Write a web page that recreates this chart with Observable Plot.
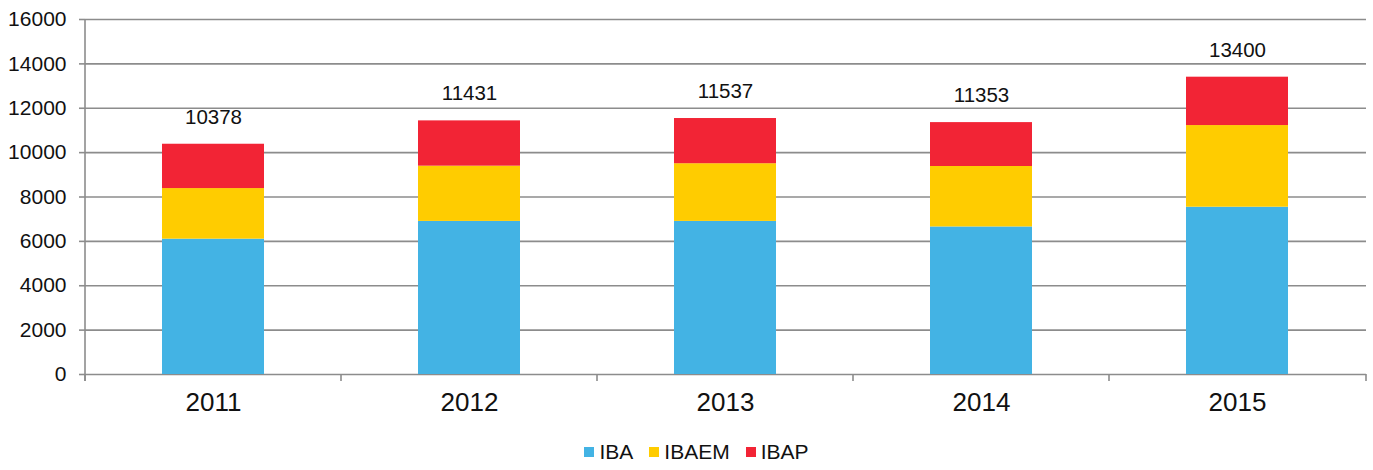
<!DOCTYPE html>
<html>
<head>
<meta charset="utf-8">
<script src="https://cdn.jsdelivr.net/npm/d3@7"></script>
<script src="https://cdn.jsdelivr.net/npm/@observablehq/plot@0.6"></script>
<style>
  body { margin: 0; background: #fff; font-family: "Liberation Sans", Arial, sans-serif; }
  svg g[aria-label="y-axis tick label"], svg g[aria-label="y-axis tick label"] text { font-size: 21px; }
  #legend { display: flex; justify-content: center; align-items: center; font-size: 21px; color: #111; height: 30px; margin-top: 7px; padding-left: 20px; }
  #legend .item { display: flex; align-items: center; margin: 0 8px; }
  #legend .sw { width: 10px; height: 10px; display: inline-block; margin-right: 5px; }
</style>
</head>
<body>
<div id="chart"></div>
<div id="legend"></div>
<script>
const years = ["2011", "2012", "2013", "2014", "2015"];
const seriesNames = ["IBA", "IBAEM", "IBAP"];
const iba = [6100, 6900, 6900, 6650, 7540];
const ibaem = [2280, 2490, 2600, 2725, 3680];
const ibap = [1998, 2041, 2037, 1978, 2180];
const totals = [10378, 11431, 11537, 11353, 13400];
const colors = ["#43B3E4", "#FFCC00", "#F22435"];
const yTicks = [0, 2000, 4000, 6000, 8000, 10000, 12000, 14000, 16000];

const seriesValues = [iba, ibaem, ibap];
const rows = years.flatMap((year, i) =>
  seriesNames.map((s, k) => ({ year, series: s, value: seriesValues[k][i] }))
);
const totalRows = years.map((year, i) => ({ year, total: totals[i] }));

// y-axis line and tick marks at category boundaries (Excel-style)
function axisLines(index, scales, values, dims) {
  const x = scales.x;
  const centers = years.map(y => x(y) + x.bandwidth() / 2);
  const b = [dims.marginLeft];
  for (let i = 0; i < centers.length - 1; i++) b.push((centers[i] + centers[i + 1]) / 2);
  b.push(dims.width - dims.marginRight);
  const y0 = scales.y(0);
  const g = d3.create("svg:g").attr("stroke", "#8c8c8c").attr("stroke-width", 1.6);
  g.append("line").attr("x1", dims.marginLeft).attr("x2", dims.marginLeft)
    .attr("y1", scales.y(16000)).attr("y2", y0 + 7);
  for (const v of b) g.append("line").attr("x1", v).attr("x2", v).attr("y1", y0).attr("y2", y0 + 7);
  return g.node();
}

const chart = Plot.plot({
  width: 1373,
  height: 430,
  marginTop: 19,
  marginBottom: 56,
  marginLeft: 85,
  marginRight: 7,
  style: { fontFamily: "Liberation Sans, Arial, sans-serif", background: "#fff", color: "#111" },
  x: { domain: years, paddingInner: 0.6, paddingOuter: 0.3, label: null },
  y: { domain: [0, 16000], label: null },
  color: { domain: seriesNames, range: colors },
  marks: [
    Plot.ruleY(yTicks, { stroke: "#8c8c8c", strokeWidth: 1.6 }),
    Plot.barY(rows, { x: "year", y: "value", fill: "series", order: seriesNames }),
    Plot.text(totalRows, { x: "year", y: "total", text: d => String(d.total), dy: -27, fontSize: 20.5, fill: "#111" }),
    Plot.axisY({ ticks: yTicks, tickFormat: d => String(d), tickSize: 6, tickPadding: 13, fontSize: 21, stroke: "#8c8c8c", strokeWidth: 1.6, label: null }),
    Plot.axisX({ tickSize: 0, tickPadding: 18, fontSize: 26, label: null }),
    axisLines
  ]
});
document.getElementById("chart").appendChild(chart);

const legend = document.getElementById("legend");
seriesNames.forEach((s, k) => {
  const item = document.createElement("span");
  item.className = "item";
  item.innerHTML = `<span class="sw" style="background:${colors[k]}"></span>${s}`;
  legend.appendChild(item);
});
</script>
</body>
</html>
